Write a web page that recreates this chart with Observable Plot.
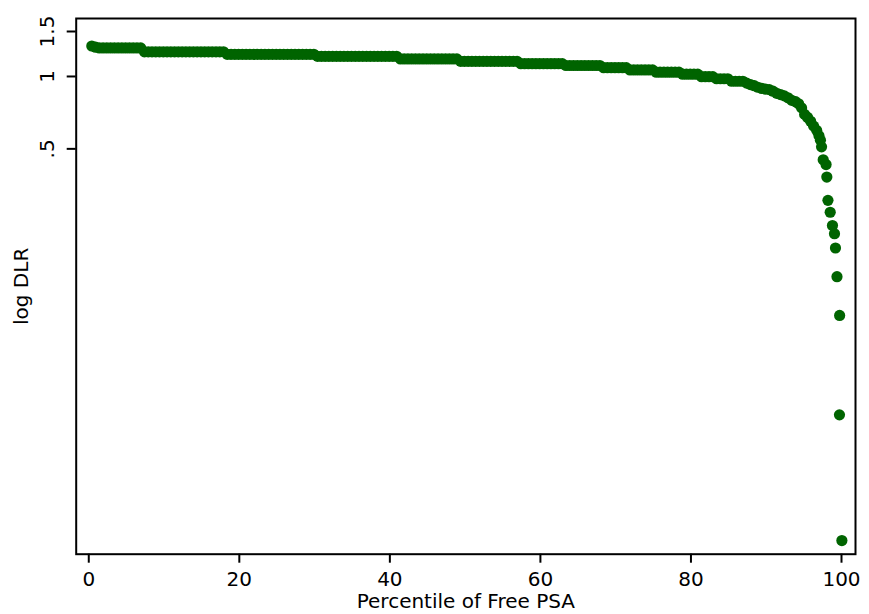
<!DOCTYPE html>
<html>
<head>
<meta charset="utf-8">
<script src="https://cdn.jsdelivr.net/npm/d3@7"></script>
<script src="https://cdn.jsdelivr.net/npm/@observablehq/plot@0.6"></script>
<style>
  html, body { margin: 0; padding: 0; background: #fff; }
  #chart { width: 869px; height: 614px; }
</style>
</head>
<body>
<div id="chart"></div>
<script>
// Percentile of Free PSA (x)
const pct = [
  0.4, 0.9,
  1.4, 1.9, 2.4, 2.9, 3.4, 3.9, 4.4, 4.9, 5.4, 5.9, 6.4, 6.9,
  7.4, 7.9, 8.4, 8.9, 9.4, 9.9, 10.4, 10.9, 11.4, 11.9, 12.4, 12.9, 13.4, 13.9, 14.4, 14.9, 15.4, 15.9, 16.4, 16.9, 17.4, 17.9,
  18.4, 18.9, 19.4, 19.9, 20.4, 20.9, 21.4, 21.9, 22.4, 22.9, 23.4, 23.9, 24.4, 24.9, 25.4, 25.9, 26.4, 26.9, 27.4, 27.9, 28.4, 28.9, 29.4, 29.9,
  30.4, 30.9, 31.4, 31.9, 32.4, 32.9, 33.4, 33.9, 34.4, 34.9, 35.4, 35.9, 36.4, 36.9, 37.4, 37.9, 38.4, 38.9, 39.4, 39.9, 40.4, 40.9,
  41.4, 41.9, 42.4, 42.9, 43.4, 43.9, 44.4, 44.9, 45.4, 45.9, 46.4, 46.9, 47.4, 47.9, 48.4, 48.9,
  49.4, 49.9, 50.4, 50.9, 51.4, 51.9, 52.4, 52.9, 53.4, 53.9, 54.4, 54.9, 55.4, 55.9, 56.4, 56.9,
  57.4, 57.9, 58.4, 58.9, 59.4, 59.9, 60.4, 60.9, 61.4, 61.9, 62.4, 62.9,
  63.4, 63.9, 64.4, 64.9, 65.4, 65.9, 66.4, 66.9, 67.4, 67.9,
  68.4, 68.9, 69.4, 69.9, 70.4, 70.9, 71.4,
  71.9, 72.4, 72.9, 73.4, 73.9, 74.4, 74.9,
  75.4, 75.9, 76.4, 76.9, 77.4, 77.9, 78.4,
  78.9, 79.4, 79.9, 80.4, 80.9,
  81.4, 81.9, 82.4, 82.9,
  83.4, 83.9, 84.4, 84.9,
  85.4, 85.9, 86.4, 86.9,
  87.4, 87.9, 88.4, 88.9, 89.4, 89.9, 90.4, 90.9, 91.4, 91.9, 92.4, 92.9,
  93.4, 93.9, 94.3, 94.7, 95.1, 95.5, 95.9, 96.3, 96.7, 97.0, 97.2, 97.35,
  97.57, 97.95, 98.05, 98.2, 98.5, 98.8, 99.07, 99.2, 99.4, 99.75, 99.73, 100.05
];

// log DLR (y)
const dlr = [
  1.319, 1.305,
  1.296, 1.296, 1.296, 1.296, 1.296, 1.296, 1.296, 1.296, 1.296, 1.296, 1.296, 1.296,
  1.252, 1.252, 1.252, 1.252, 1.252, 1.252, 1.252, 1.252, 1.252, 1.252, 1.252, 1.252, 1.252, 1.252, 1.252, 1.252, 1.252, 1.252, 1.252, 1.252, 1.252, 1.252,
  1.224, 1.224, 1.224, 1.224, 1.224, 1.224, 1.224, 1.224, 1.224, 1.224, 1.224, 1.224, 1.224, 1.224, 1.224, 1.224, 1.224, 1.224, 1.224, 1.224, 1.224, 1.224, 1.224, 1.224,
  1.202, 1.202, 1.202, 1.202, 1.202, 1.202, 1.202, 1.202, 1.202, 1.202, 1.202, 1.202, 1.202, 1.202, 1.202, 1.202, 1.202, 1.202, 1.202, 1.202, 1.202, 1.202,
  1.174, 1.174, 1.174, 1.174, 1.174, 1.174, 1.174, 1.174, 1.174, 1.174, 1.174, 1.174, 1.174, 1.174, 1.174, 1.174,
  1.149, 1.149, 1.149, 1.149, 1.149, 1.149, 1.149, 1.149, 1.149, 1.149, 1.149, 1.149, 1.149, 1.149, 1.149, 1.149,
  1.124, 1.124, 1.124, 1.124, 1.124, 1.124, 1.124, 1.124, 1.124, 1.124, 1.124, 1.124,
  1.106, 1.106, 1.106, 1.106, 1.106, 1.106, 1.106, 1.106, 1.106, 1.106,
  1.084, 1.084, 1.084, 1.084, 1.084, 1.084, 1.084,
  1.062, 1.062, 1.062, 1.062, 1.062, 1.062, 1.062,
  1.040, 1.040, 1.040, 1.040, 1.040, 1.040, 1.040,
  1.021, 1.021, 1.021, 1.021, 1.021,
  0.998, 0.998, 0.998, 0.998,
  0.979, 0.979, 0.979, 0.979,
  0.957, 0.957, 0.957, 0.957,
  0.940, 0.928, 0.918, 0.905, 0.895, 0.890, 0.885, 0.872, 0.855, 0.845, 0.835, 0.820,
  0.800, 0.790, 0.775, 0.745, 0.700, 0.680, 0.655, 0.625, 0.600, 0.570, 0.545, 0.510,
  0.448, 0.427, 0.376, 0.295, 0.260, 0.2255, 0.206, 0.176, 0.127, 0.0802, 0.0219, 0.00308
];

const xTicks = [0, 20, 40, 60, 80, 100];
const yTicks = [0.5, 1, 1.5];
const yTickLabels = [".5", "1", "1.5"];
const xLabel = "Percentile of Free PSA";
const yLabel = "log DLR";

if (pct.length !== dlr.length) throw new Error("length mismatch " + pct.length + " vs " + dlr.length);

const data = pct.map((p, i) => ({pct: p, dlr: dlr[i]}));
const dotColor = "#006400";

const chart = Plot.plot({
  width: 869,
  height: 614,
  marginLeft: 75.7,
  marginRight: 14,
  marginTop: 18,
  marginBottom: 60.3,
  style: {fontFamily: "DejaVu Sans", fontSize: "20px", background: "#fff", color: "#000"},
  x: {domain: [-1.67, 101.86]},
  y: {type: "pow", exponent: 0.11, domain: [0.00242, 1.681]},
  marks: [
    Plot.dot(data, {x: "pct", y: "dlr", r: 5.6, fill: dotColor, stroke: "none"}),
    Plot.frame({stroke: "#000", strokeWidth: 2}),
    Plot.axisX({ticks: xTicks, tickSize: 9, tickPadding: 9, strokeWidth: 2, tickFormat: d => String(d), label: null, fontSize: 20}),
    Plot.axisY({ticks: yTicks, tickSize: 9, tickPadding: 13, strokeWidth: 2, tickRotate: -90,
      tickFormat: d => yTickLabels[yTicks.indexOf(d)], label: null, fontSize: 20}),
    Plot.text([xLabel], {frameAnchor: "bottom", dy: 54, lineAnchor: "bottom", textAnchor: "middle", fontSize: 20}),
    Plot.text([yLabel], {frameAnchor: "left", dx: -47.7, rotate: -90, lineAnchor: "bottom", textAnchor: "middle", fontSize: 20})
  ]
});
document.getElementById("chart").appendChild(chart);
</script>
</body>
</html>
